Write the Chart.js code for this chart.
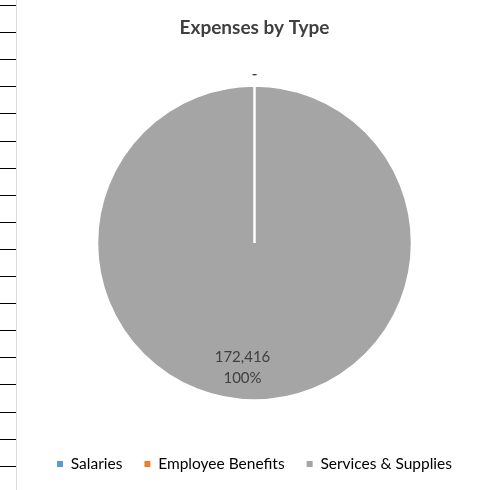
<!DOCTYPE html>
<html>
<head>
<meta charset="utf-8">
<script src="https://cdn.jsdelivr.net/npm/chart.js@4"></script>
<style>
html, body { margin: 0; padding: 0; background: #fff; }
#wrap { position: relative; width: 484px; height: 490px; }
.rowline { position: absolute; left: 0; width: 16px; height: 1px; background: #000; }
.colline { position: absolute; left: 16px; top: 0; width: 1px; height: 490px; background: #d9d9d9; }
canvas { position: absolute; left: 0; top: 0; }
</style>
</head>
<body>
<div id="wrap">
  <canvas id="expenses-by-type" width="484" height="490"></canvas>
</div>
<script>
const categories = ['Salaries', 'Employee Benefits', 'Services & Supplies'];
const amounts = [0, 0, 172416];
const sliceColors = ['#5B9BD5', '#ED7D31', '#A5A5A5'];

// spreadsheet cell lines down the left edge
let wrap = document.getElementById('wrap');
for (let i = 0; i < 18; i++) {
	let d = document.createElement('div');
	d.className = 'rowline';
	d.style.top = Math.round(5 + i * 27.1) + 'px';
	wrap.appendChild(d);
}
let col = document.createElement('div');
col.className = 'colline';
wrap.appendChild(col);

Chart.defaults.font.family = "Lato, 'Open Sans', sans-serif";

// value + percent labels, "-" for empty slices
const sliceLabels = {
	id: 'sliceLabels',
	afterDatasetsDraw(chart) {
		const ctx = chart.ctx;
		const meta = chart.getDatasetMeta(0);
		const total = amounts.reduce((a, b) => a + b, 0);
		ctx.save();
		ctx.font = "15px Lato, 'Open Sans', sans-serif";
		ctx.fillStyle = '#404040';
		ctx.textAlign = 'center';
		ctx.textBaseline = 'middle';
		meta.data.forEach((arc, i) => {
			const p = arc.getProps(['x', 'y', 'startAngle', 'endAngle', 'outerRadius'], true);
			const mid = (p.startAngle + p.endAngle) / 2;
			if (amounts[i] === 0) {
				const r = p.outerRadius + 11;
				ctx.fillText('-', p.x + Math.cos(mid) * r, p.y + Math.sin(mid) * r);
			} else {
				const r = p.outerRadius * 0.79;
				const x = p.x + Math.cos(mid) * r - 12;
				const y = p.y + Math.sin(mid) * r;
				ctx.fillText(amounts[i].toLocaleString('en-US'), x, y - 10.5);
				ctx.fillText(Math.round(amounts[i] / total * 100) + '%', x, y + 10.5);
			}
		});
		ctx.restore();
	}
};

new Chart(document.getElementById('expenses-by-type'), {
	type: 'pie',
	data: {
		labels: categories,
		datasets: [{
			label: 'Expenses by Type',
			data: amounts,
			backgroundColor: sliceColors,
			borderColor: '#ffffff',
			borderWidth: 2.5,
			radius: 157.5
		}]
	},
	options: {
		responsive: false,
		animation: false,
		events: [],
		layout: { padding: { top: 8, left: 25, right: 0, bottom: 8.25 } },
		plugins: {
			title: {
				display: true,
				text: 'Expenses by Type',
				color: '#404040',
				font: { size: 19, weight: 'bold' },
				padding: { top: 8.6, bottom: 12.35 }
			},
			legend: {
				position: 'bottom',
				labels: {
					color: '#595959',
					font: { size: 15.5 },
					boxWidth: 6,
					boxHeight: 6,
					padding: 22,
					generateLabels: () => categories.map((c, i) => ({
						text: c,
						fillStyle: sliceColors[i],
						strokeStyle: sliceColors[i],
						lineWidth: 0,
						hidden: false,
						index: i
					}))
				}
			},
			tooltip: { enabled: false }
		}
	},
	plugins: [sliceLabels]
});
</script>
</body>
</html>
